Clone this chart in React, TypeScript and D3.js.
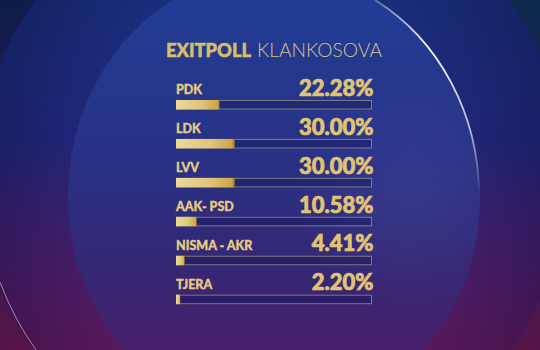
import React from "react";
import * as d3 from "d3";

const parties: string[] = ["PDK", "LDK", "LVV", "AAK- PSD", "NISMA - AKR", "TJERA"];
const shares: number[] = [22.28, 30.0, 30.0, 10.58, 4.41, 2.2];
const titleBold = "EXITPOLL";
const titleLight = "KLANKOSOVA";

const W = 540;
const H = 350;

export default function App() {
  const x = d3.scaleLinear().domain([0, 100]).range([176, 372]);
  const y = d3.scalePoint<string>().domain(parties).range([100, 294.7]);
  const fmt = (v: number) => d3.format(".2f")(v) + "%";
  const barH = 9.5;

  const gold = "#e0c474";
  const font = "Lato, 'Open Sans', sans-serif";

  return (
    <svg
      width={W}
      height={H}
      viewBox={`0 0 ${W} ${H}`}
      style={{ position: "absolute", left: 0, top: 0, display: "block" }}
    >
      <defs>
        <linearGradient id="bg" x1="0" y1="0" x2="0" y2="1">
          <stop offset="0" stopColor="#0e1c48" />
          <stop offset="0.5" stopColor="#2a1a58" />
          <stop offset="1" stopColor="#561548" />
        </linearGradient>
        <radialGradient id="corner" cx="1" cy="0" r="0.5">
          <stop offset="0" stopColor="#0d2a4e" />
          <stop offset="1" stopColor="#0d2a4e" stopOpacity="0" />
        </radialGradient>
        <linearGradient id="outer" x1="0" y1="0" x2="0" y2={H} gradientUnits="userSpaceOnUse">
          <stop offset="0" stopColor="#1b3282" />
          <stop offset="0.4" stopColor="#22287c" />
          <stop offset="0.7" stopColor="#46206e" />
          <stop offset="1" stopColor="#661c62" />
        </linearGradient>
        <radialGradient id="ringShade" cx="272" cy="177" r="295" gradientUnits="userSpaceOnUse">
          <stop offset="0.65" stopColor="#000020" stopOpacity="0.05" />
          <stop offset="1" stopColor="#000020" stopOpacity="0.28" />
        </radialGradient>
        <linearGradient id="inner" x1="0" y1="0" x2="0" y2={H} gradientUnits="userSpaceOnUse">
          <stop offset="0" stopColor="#213e94" />
          <stop offset="0.45" stopColor="#283185" />
          <stop offset="0.8" stopColor="#372672" />
          <stop offset="1" stopColor="#481f6a" />
        </linearGradient>
        <radialGradient id="glow" cx="410" cy="190" r="120" gradientUnits="userSpaceOnUse">
          <stop offset="0" stopColor="#5a5fb5" stopOpacity="0.22" />
          <stop offset="1" stopColor="#5a5fb5" stopOpacity="0" />
        </radialGradient>
        <linearGradient id="hl" x1="375" y1="0" x2="479" y2="196" gradientUnits="userSpaceOnUse">
          <stop offset="0" stopColor="#ffffff" stopOpacity="0.3" />
          <stop offset="0.3" stopColor="#ffffff" stopOpacity="1" />
          <stop offset="0.7" stopColor="#e8e8ff" stopOpacity="0.75" />
          <stop offset="1" stopColor="#ffffff" stopOpacity="0" />
        </linearGradient>
        <linearGradient id="barFill" x1="0" y1="0" x2="1" y2="0">
          <stop offset="0" stopColor="#ecd99a" />
          <stop offset="0.6" stopColor="#e0c476" />
          <stop offset="0.95" stopColor="#cda548" />
          <stop offset="1" stopColor="#8a6e30" />
        </linearGradient>
      </defs>

      <rect x={0} y={0} width={W} height={H} fill="url(#bg)" />
      <rect x={0} y={0} width={W} height={H} fill="url(#corner)" />
      <circle cx={272} cy={177} r={295} fill="url(#outer)" />
      <circle cx={272} cy={177} r={295} fill="url(#ringShade)" />
      <path
        d="M 0 282 A 295 295 0 0 0 36 350"
        fill="none"
        stroke="#f0d0f0"
        strokeOpacity={0.6}
        strokeWidth={1}
      />
      <ellipse cx={274} cy={196} rx={206} ry={225} fill="url(#inner)" />
      <ellipse cx={274} cy={196} rx={206} ry={225} fill="url(#glow)" />
      <path
        d="M 375 0 A 206 225 0 0 1 479 196"
        fill="none"
        stroke="url(#hl)"
        strokeWidth={1.8}
      />

      <text
        x={166}
        y={56.5}
        fontFamily={font}
        fontSize={19}
        fontWeight={900}
        fill="#d9bd6a"
        stroke="#d9bd6a"
        strokeWidth={0.5}
        textLength={85}
        lengthAdjust="spacingAndGlyphs"
      >
        {titleBold}
      </text>
      <text
        x={257}
        y={56.5}
        fontFamily={font}
        fontSize={19}
        fontWeight={300}
        fill="#d6c38c"
        textLength={125}
        lengthAdjust="spacingAndGlyphs"
      >
        {titleLight}
      </text>

      {parties.map((p, i) => {
        const top = y(p) as number;
        return (
          <g key={p}>
            <text
              x={x(0)}
              y={top - 6}
              fontFamily={font}
              fontSize={12.5}
              fontWeight={900}
              fill="#e6cc82"
              stroke="#e6cc82"
              strokeWidth={0.3}
            >
              {p}
            </text>
            <text
              x={373.5}
              y={top - 4.3}
              textAnchor="end"
              fontFamily={font}
              fontSize={22}
              fontWeight={900}
              fill={gold}
              stroke={gold}
              strokeWidth={0.7}
            >
              {fmt(shares[i])}
            </text>
            <rect
              x={x(0) + 0.5}
              y={top + 0.5}
              width={x(100) - x(0) - 1}
              height={barH - 1}
              fill="#16195a"
              fillOpacity={0.45}
              stroke="#a69a8a"
              strokeOpacity={0.7}
              strokeWidth={1}
            />
            <rect
              x={x(0)}
              y={top}
              width={x(shares[i]) - x(0)}
              height={barH}
              fill="url(#barFill)"
            />
          </g>
        );
      })}
    </svg>
  );
}
